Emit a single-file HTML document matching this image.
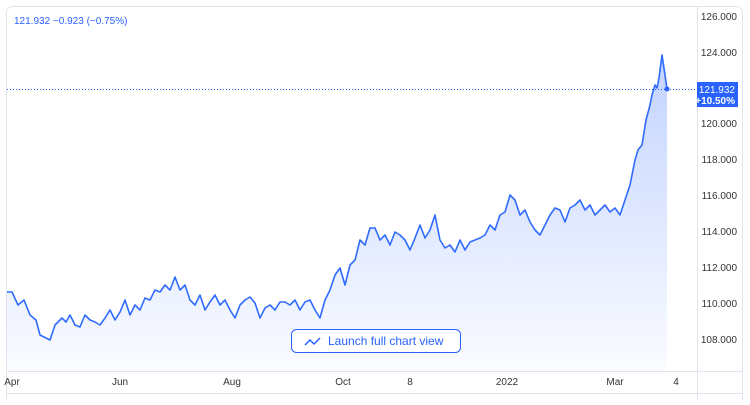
<!DOCTYPE html>
<html><head><style>
body{margin:0;background:#fff;font-family:"Liberation Sans",sans-serif;}
</style></head><body>
<svg width="750" height="400" xmlns="http://www.w3.org/2000/svg" font-family="Liberation Sans, sans-serif">
<defs><linearGradient id="g" x1="0" y1="0" x2="0" y2="1"><stop offset="0" stop-color="#2962ff" stop-opacity="0.28"/><stop offset="1" stop-color="#2962ff" stop-opacity="0.02"/></linearGradient></defs>
<rect x="6.5" y="6.5" width="736" height="400" rx="6" fill="#fff" stroke="#e0e3eb"/>
<line x1="697.5" y1="7" x2="697.5" y2="400" stroke="#e0e3eb"/>
<line x1="7" y1="371.5" x2="742" y2="371.5" stroke="#e0e3eb"/>
<line x1="7" y1="393.5" x2="742" y2="393.5" stroke="#e0e3eb"/>
<text x="14" y="24" font-size="10" fill="#2962ff">121.932 −0.923 (−0.75%)</text>
<g font-size="10" fill="#333" text-anchor="end">
<text x="737" y="20">126.000</text><text x="737" y="56">124.000</text><text x="737" y="127">120.000</text><text x="737" y="163">118.000</text><text x="737" y="199">116.000</text><text x="737" y="235">114.000</text><text x="737" y="271">112.000</text><text x="737" y="307">110.000</text><text x="737" y="343">108.000</text>
</g>
<g font-size="10" fill="#333" text-anchor="middle">
<text x="12" y="385">Apr</text><text x="120" y="385">Jun</text><text x="232" y="385">Aug</text><text x="343" y="385">Oct</text><text x="410" y="385">8</text><text x="507" y="385">2022</text><text x="615" y="385">Mar</text><text x="676" y="385">4</text>
</g>
<path d="M7 292L12 292L18 305L24 300L30 315L36 320L40 335L50 340L55 325L62 318L66 322L70 315L75 325L80 327L85 315L90 320L95 322L100 325L105 318L110 310L115 320L120 312L125 300L130 315L135 305L140 310L145 298L150 300L155 290L160 292L165 285L170 290L175 277L180 290L185 285L190 300L195 305L200 295L205 310L210 302L215 295L220 305L225 300L230 310L235 318L240 305L245 300L250 297L255 303L260 318L265 308L270 305L275 310L280 302L285 302L290 305L295 300L300 310L305 302L310 300L315 310L320 318L325 300L330 290L335 275L340 268L345 285L350 265L355 260L360 240L365 245L370 228L375 228L380 240L385 235L390 245L395 232L400 235L405 240L410 250L415 238L420 225L425 238L430 230L435 215L440 240L445 248L450 245L455 252L460 240L465 250L470 242L475 240L480 238L485 235L490 225L495 230L500 215L505 212L510 195L515 200L520 215L525 210L530 222L535 230L540 235L545 225L550 215L555 208L560 210L565 222L570 208L575 205L580 200L585 210L590 205L595 215L600 210L605 205L610 212L615 208L620 215L625 200L630 185L635 160L638 150L642 145L646 120L650 105L652 95L655 85L657 88L659 78L662 55L665 75L667 89L667 371L7 371Z" fill="url(#g)"/>
<path d="M7 292L12 292L18 305L24 300L30 315L36 320L40 335L50 340L55 325L62 318L66 322L70 315L75 325L80 327L85 315L90 320L95 322L100 325L105 318L110 310L115 320L120 312L125 300L130 315L135 305L140 310L145 298L150 300L155 290L160 292L165 285L170 290L175 277L180 290L185 285L190 300L195 305L200 295L205 310L210 302L215 295L220 305L225 300L230 310L235 318L240 305L245 300L250 297L255 303L260 318L265 308L270 305L275 310L280 302L285 302L290 305L295 300L300 310L305 302L310 300L315 310L320 318L325 300L330 290L335 275L340 268L345 285L350 265L355 260L360 240L365 245L370 228L375 228L380 240L385 235L390 245L395 232L400 235L405 240L410 250L415 238L420 225L425 238L430 230L435 215L440 240L445 248L450 245L455 252L460 240L465 250L470 242L475 240L480 238L485 235L490 225L495 230L500 215L505 212L510 195L515 200L520 215L525 210L530 222L535 230L540 235L545 225L550 215L555 208L560 210L565 222L570 208L575 205L580 200L585 210L590 205L595 215L600 210L605 205L610 212L615 208L620 215L625 200L630 185L635 160L638 150L642 145L646 120L650 105L652 95L655 85L657 88L659 78L662 55L665 75L667 89" fill="none" stroke="#2f6bff" stroke-width="1.6" stroke-linejoin="round"/>
<line x1="7" y1="89.5" x2="697" y2="89.5" stroke="#2962ff" stroke-width="1" stroke-dasharray="1,2"/>
<circle cx="667" cy="89" r="2.5" fill="#2962ff"/>
<rect x="697" y="82" width="41" height="25" fill="#2962ff"/>
<text x="735" y="93" font-size="10" fill="#fff" text-anchor="end">121.932</text>
<text x="735" y="104" font-size="10" fill="#fff" text-anchor="end" font-weight="bold">+10.50%</text>
<rect x="291.5" y="329.5" width="169" height="23" rx="5" fill="#fff" stroke="#2962ff"/>
<path d="M305 345l5-5 4 4 6-6" fill="none" stroke="#2962ff" stroke-width="1.5"/>
<text x="328" y="345" font-size="12" fill="#2962ff">Launch full chart view</text>
</svg>
</body></html>
